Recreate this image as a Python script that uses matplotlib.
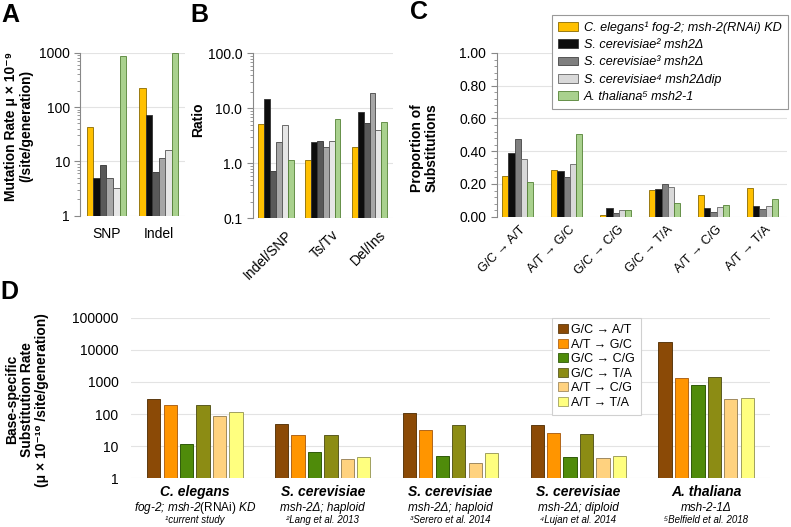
import numpy as np
import matplotlib.pyplot as plt
import matplotlib.transforms as mtransforms
from matplotlib.patches import Patch
from matplotlib.ticker import LogLocator, NullFormatter, MultipleLocator, FixedLocator, FixedFormatter

plt.rcParams['font.family'] = ['Liberation Sans', 'DejaVu Sans']
plt.rcParams['mathtext.fontset'] = 'custom'
plt.rcParams['mathtext.rm'] = 'Liberation Sans'
plt.rcParams['mathtext.it'] = 'Liberation Sans:italic'
plt.rcParams['mathtext.bf'] = 'Liberation Sans:bold'

# --- panel A: mutation rates (x 10^-9 /site/generation)
a_cats = ['SNP', 'Indel']
a_vals = [
    [42.2, 227],    # C. elegans
    [4.87, 70.3],   # S. cerevisiae 2
    [8.57, 6.28],   # S. cerevisiae 3
    [4.93, 11.5],   # S. cerevisiae
    [3.19, 16.2],   # S. cerevisiae 4
    [868, 986],     # A. thaliana
]

# --- panel B: ratios
b_cats = ['Indel/SNP', 'Ts/Tv', 'Del/Ins']
b_vals = [
    [5.26, 1.13, 1.95],
    [14.6, 2.44, 8.46],
    [0.73, 2.55, 5.34],
    [2.44, 2.01, 19.0],
    [4.98, 2.55, 3.98],
    [1.17, 6.4, 5.64],
]
ab_colors = ['#ffc000', '#0d0d0d', '#595959', '#a6a6a6', '#e6e6e6', '#a9d18e']
ab_edges = ['#8a6a00', '#333333', '#333333', '#444444', '#555555', '#548235']

# --- panel C: proportion of substitutions
c_cats = ['G/C → A/T', 'A/T → G/C', 'G/C → C/G', 'G/C → T/A', 'A/T → C/G', 'A/T → T/A']
c_vals = [
    [0.246, 0.283, 0.012, 0.162, 0.131, 0.176],
    [0.390, 0.281, 0.053, 0.172, 0.053, 0.063],
    [0.475, 0.240, 0.022, 0.198, 0.028, 0.046],
    [0.350, 0.319, 0.040, 0.182, 0.059, 0.065],
    [0.210, 0.505, 0.040, 0.083, 0.071, 0.107],
]
c_labels = ['C. elegans¹ fog-2; msh-2(RNAi) KD', 'S. cerevisiae² msh2Δ',
            'S. cerevisiae³ msh2Δ', 'S. cerevisiae⁴ msh2Δdip', 'A. thaliana⁵ msh2-1']
c_colors = ['#ffc000', '#0d0d0d', '#7f7f7f', '#d9d9d9', '#a9d18e']
c_edges = ['#8a6a00', '#333333', '#444444', '#666666', '#548235']

# --- panel D: base-specific substitution rate (x 10^-10 /site/generation)
d_species = ['C. elegans', 'S. cerevisiae', 'S. cerevisiae', 'S. cerevisiae', 'A. thaliana']
d_strains = [r'fog-2; msh-2$\mathrm{(RNAi)}$ KD', 'msh-2Δ; haploid', 'msh-2Δ; haploid',
             'msh-2Δ; diploid', 'msh-2-1Δ']
d_refs = ['¹current study', '²Lang et al. 2013', '³Serero et al. 2014',
          '⁴Lujan et al. 2014', '⁵Belfield et al. 2018']
d_types = ['G/C → A/T', 'A/T → G/C', 'G/C → C/G', 'G/C → T/A', 'A/T → C/G', 'A/T → T/A']
d_vals = [
    [295, 49, 105, 45, 18000],
    [187, 22, 33, 25, 1350],
    [11.7, 6.5, 4.9, 4.6, 790],
    [190, 22, 45, 23.5, 1380],
    [85, 3.9, 3.1, 4.4, 295],
    [117, 4.5, 6.0, 5.0, 310],
]
d_colors = ['#8b4a06', '#ff9500', '#4f8b0a', '#8c8c14', '#ffd27f', '#ffff7f']
d_edges = ['#5c3a10', '#b0651a', '#2f5a0a', '#5a5a20', '#a08a60', '#a0a060']

W, H = 791, 527
fig = plt.figure(figsize=(W / 100, H / 100), dpi=100)


def px_axes(left, top, right, bottom):
    return fig.add_axes([left / W, 1 - bottom / H, (right - left) / W, (bottom - top) / H])


def style_axis(ax):
    for s in ['top', 'right', 'bottom']:
        ax.spines[s].set_visible(False)
    ax.spines['left'].set_color('#888888')
    ax.spines['left'].set_linewidth(0.8)
    ax.tick_params(axis='y', which='both', color='#888888', labelsize=10, length=4)
    ax.tick_params(axis='y', which='minor', length=2.5)
    ax.tick_params(axis='x', length=0, labelsize=10)
    ax.yaxis.grid(True, which='major', color='#e3e3e3', lw=0.8)
    ax.set_axisbelow(True)


def shift_labels(ax, dx, dy):
    off = mtransforms.ScaledTranslation(dx / 100, dy / 100, fig.dpi_scale_trans)
    for lab in ax.get_xticklabels():
        lab.set_transform(lab.get_transform() + off)


def grouped(ax, vals, colors, edges, gw, lw=0.6):
    n = len(vals)
    bw = gw / n
    for i, (v, c, e) in enumerate(zip(vals, colors, edges)):
        x = np.arange(len(v)) - gw / 2 + bw * (i + 0.5)
        ax.bar(x, v, bw, color=c, edgecolor=e, linewidth=lw)


# A
axA = px_axes(80.3, 52.7, 184.9, 215.7)
grouped(axA, a_vals, ab_colors, ab_edges, 0.75)
axA.set_yscale('log')
axA.set_ylim(1, 1000)
axA.set_xlim(-0.5, 1.5)
axA.set_xticks(range(len(a_cats)))
axA.set_xticklabels(a_cats)
axA.yaxis.set_major_locator(FixedLocator([1, 10, 100, 1000]))
axA.yaxis.set_major_formatter(FixedFormatter(['1', '10', '100', '1000']))
axA.yaxis.set_minor_locator(LogLocator(base=10, subs=np.arange(2, 10)))
axA.yaxis.set_minor_formatter(NullFormatter())
style_axis(axA)
axA.tick_params(axis='x', pad=8)
axA.set_ylabel('Mutation Rate μ × 10⁻⁹\n(/site/generation)', fontsize=10, fontweight='bold',
               linespacing=1.1)
axA.yaxis.set_label_coords(-0.45, 0.55)

# B
axB = px_axes(252.6, 53.3, 393.0, 218.3)
grouped(axB, b_vals, ab_colors, ab_edges, 0.756)
axB.set_yscale('log')
axB.set_ylim(0.1, 100)
axB.set_xlim(-0.5, 2.5)
axB.set_xticks(range(len(b_cats)))
axB.set_xticklabels(b_cats, rotation=45, ha='right', rotation_mode='anchor')
axB.yaxis.set_major_locator(FixedLocator([0.1, 1, 10, 100]))
axB.yaxis.set_major_formatter(FixedFormatter(['0.1', '1.0', '10.0', '100.0']))
axB.yaxis.set_minor_locator(LogLocator(base=10, subs=np.arange(2, 10)))
axB.yaxis.set_minor_formatter(NullFormatter())
style_axis(axB)
axB.tick_params(axis='x', pad=2)
shift_labels(axB, 9, -7)
axB.set_ylabel('Ratio', fontsize=10, fontweight='bold')
axB.yaxis.set_label_coords(-0.34, 0.6)

# C
axC = px_axes(496.7, 53.0, 787.0, 216.7)
grouped(axC, c_vals, c_colors, c_edges, 0.63)
axC.set_ylim(0, 1.0)
axC.set_xlim(-0.43, 5.5)
axC.set_xticks(range(len(c_cats)))
axC.set_xticklabels(c_cats, rotation=45, ha='right', rotation_mode='anchor')
axC.yaxis.set_major_locator(MultipleLocator(0.2))
axC.yaxis.set_minor_locator(MultipleLocator(0.04))
axC.yaxis.set_major_formatter(plt.FuncFormatter(lambda v, p: f'{v:.2f}'))
style_axis(axC)
axC.tick_params(axis='x', labelsize=9, pad=2)
shift_labels(axC, 2, -4)
axC.set_ylabel('Proportion of\nSubstitutions', fontsize=10, fontweight='bold', linespacing=1.1)
axC.yaxis.set_label_coords(-0.2, 0.42)

handles = [Patch(facecolor=c, edgecolor=e, linewidth=0.6) for c, e in zip(c_colors, c_edges)]
legC = fig.legend(handles, c_labels, loc='upper right', bbox_to_anchor=(788 / W, 1 - 15 / H),
                  prop={'size': 9.1, 'style': 'italic'}, fancybox=False, edgecolor='#999999',
                  handlelength=1.6, handleheight=0.7, handletextpad=0.45, labelspacing=0.42,
                  borderpad=0.5, borderaxespad=0, framealpha=1)
legC.get_frame().set_linewidth(0.8)

# D
axD = px_axes(131, 317.7, 770, 478.3)
n = len(d_vals)
gw = 0.772
slot = gw / n
for i, (v, c, e) in enumerate(zip(d_vals, d_colors, d_edges)):
    x = np.arange(len(v)) - gw / 2 + slot * (i + 0.5)
    axD.bar(x, v, slot * 0.81, color=c, edgecolor=e, linewidth=0.7)
axD.set_yscale('log')
axD.set_ylim(1, 100000)
axD.set_xlim(-0.5, 4.5)
axD.yaxis.set_major_locator(FixedLocator([1, 10, 100, 1000, 10000, 100000]))
axD.yaxis.set_major_formatter(FixedFormatter(['1', '10', '100', '1000', '10000', '100000']))
axD.yaxis.set_minor_locator(FixedLocator([]))
for s in axD.spines.values():
    s.set_visible(False)
axD.tick_params(axis='y', length=0, labelsize=10, pad=9)
axD.set_xticks([])
axD.yaxis.grid(True, color='#e3e3e3', lw=0.8)
axD.set_axisbelow(True)
axD.set_ylabel('Base-specific\nSubstitution Rate\n(μ × 10⁻¹⁰ /site/generation)',
               fontsize=10, fontweight='bold', linespacing=1.1)
axD.yaxis.set_label_coords(-0.128, 0.49)

for i in range(len(d_species)):
    axD.annotate(d_species[i], xy=(i, 0), xycoords=('data', 'axes fraction'),
                 xytext=(0, -9.9), textcoords='offset points', ha='center', va='center',
                 fontsize=10, fontweight='bold', style='italic')
    axD.annotate(d_strains[i], xy=(i, 0), xycoords=('data', 'axes fraction'),
                 xytext=(0, -21.2), textcoords='offset points', ha='center', va='center',
                 fontsize=8.5, style='italic')
    axD.annotate(d_refs[i], xy=(i, 0), xycoords=('data', 'axes fraction'),
                 xytext=(0, -30.0), textcoords='offset points', ha='center', va='center',
                 fontsize=7, style='italic')

handlesD = [Patch(facecolor=c, edgecolor=e, linewidth=0.6) for c, e in zip(d_colors, d_edges)]
legD = axD.legend(handlesD, d_types, loc='upper left', bbox_to_anchor=(552 / W, 1 - 318 / H),
                  bbox_transform=fig.transFigure, fontsize=9, fancybox=False,
                  edgecolor='#d0d0d0', handlelength=0.75, handleheight=0.75,
                  handletextpad=0.3, labelspacing=0.2, borderpad=0.5, borderaxespad=0,
                  framealpha=1)
legD.get_frame().set_linewidth(0.8)

# panel letters
for letter, x, y in [('A', 1, 3), ('B', 190, 3), ('C', 410, 0), ('D', 0, 280)]:
    fig.text(x / W, 1 - y / H, letter, fontsize=18, fontweight='bold', ha='left', va='top')

fig.savefig('out.png', dpi=100)
